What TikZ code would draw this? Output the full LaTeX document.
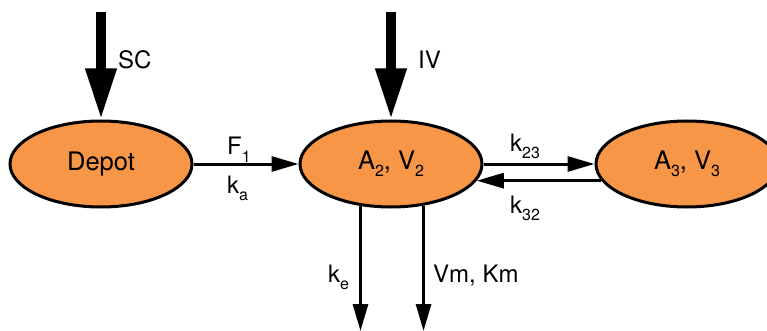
\documentclass[tikz,border=0pt]{standalone}
\usepackage{fontspec}
\setmainfont{TeX Gyre Heros}
\usetikzlibrary{shapes.geometric,arrows.meta}
\definecolor{comporange}{HTML}{F79646}
\newcommand\subx[1]{\raisebox{-7pt}{\fontsize{16}{16}\selectfont #1}}
\begin{document}
\begin{tikzpicture}[x=1pt,y=-1pt,
  comp/.style={ellipse,draw,line width=3pt,fill=comporange,minimum width=182pt,minimum height=86pt,inner sep=0pt,font=\fontsize{25.5}{28}\selectfont},
  rate/.style={-{Triangle[length=27pt,width=15pt]},line width=3pt},
  dose/.style={-{Triangle[length=51pt,width=29pt]},line width=10pt},
  lbl/.style={anchor=base west,inner sep=0pt,font=\fontsize{24}{28}\selectfont}]
\useasboundingbox (0,0) rectangle (767,331);
\clip (0,0) rectangle (767,331);
\node[comp] (depot) at (101,164) {Depot};
\node[comp] (a2) at (391,164) {A\subx{2}, V\subx{2}};
\node[comp] (a3) at (687,164) {A\subx{3}, V\subx{3}};
\coordinate (scstart) at (101,12);
\coordinate (ivstart) at (391,12);
\coordinate (bottom) at (0,331);
\draw[dose] (scstart) -- (depot.north);
\draw[dose] (ivstart) -- (a2.north);
\draw[rate] (depot.east) -- (a2.west);
\draw[rate] (a2.east) -- (a3.west);
\draw[rate] (a3.191) -- (a2.349);
\draw[rate] (a2.234) -- (a2.234 |- bottom);
\draw[rate] (a2.308) -- (a2.308 |- bottom);
\node[lbl] (sclbl) at (118,69) {SC};
\node[lbl] (ivlbl) at (418,69) {IV};
\node[lbl] (f1lbl) at (227,155) {F\subx{1}};
\node[lbl] (kalbl) at (227,193) {k\subx{a}};
\node[lbl] (k23lbl) at (510,152) {k\subx{23}};
\node[lbl] (k32lbl) at (510,213) {k\subx{32}};
\node[lbl] (kelbl) at (328,282) {k\subx{e}};
\node[lbl] (vmlbl) at (433,282) {Vm, Km};
\end{tikzpicture}
\end{document}
